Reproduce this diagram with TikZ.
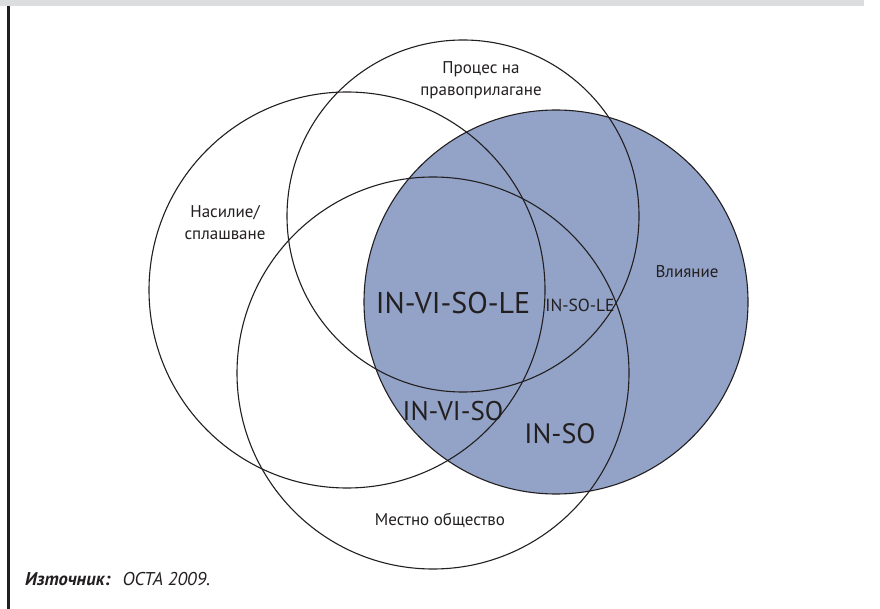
\documentclass[tikz,border=0pt]{standalone}
\usepackage{fontspec}
\setmainfont{PT Sans}
\definecolor{inkc}{RGB}{35,31,32}
\definecolor{fillblue}{RGB}{146,163,199}
\definecolor{bargray}{RGB}{220,221,223}
\begin{document}
\begin{tikzpicture}[x=1pt,y=-1pt,
  ring/.style={circle,draw=inkc,line width=1.1pt,inner sep=0pt},
  lbl/.style={text=inkc,inner sep=0pt,font=\fontsize{17}{22}\selectfont,align=center},
  big/.style={text=inkc,inner sep=0pt,anchor=base}]
\useasboundingbox (0,0) rectangle (880,609);
\fill[white] (0,0) rectangle (880,609);
\fill[bargray] (0,0) rectangle (864,6);
\fill[inkc] (7,6) rectangle (9.5,609);
% filled circle first
\node[circle,fill=fillblue,inner sep=0pt,minimum size=384pt] (inflfill) at (556,302) {};
% outlines
\node[ring,minimum size=396pt] (viol) at (347,290) {};
\node[ring,minimum size=352pt] (law) at (463,216) {};
\node[ring,minimum size=384pt] (infl) at (556,302) {};
\node[ring,minimum size=392pt] (comm) at (433,373) {};
% labels
\node[lbl] (tlaw) at (481,80) {Процес на\\правоприлагане};
\node[lbl] (tviol) at (225,223) {Насилие/\\сплашване};
\node[lbl,anchor=base] (tinfl) at (687,278) {Влияние};
\node[lbl,anchor=base] (tcomm) at (440,525) {Местно общество};
\node[big,font=\fontsize{30}{30}\selectfont] (t4) at (453,313) {IN-VI-SO-LE};
\node[big,font=\fontsize{17.5}{18}\selectfont] (t3b) at (580,312) {IN-SO-LE};
\node[big,font=\fontsize{27}{27}\selectfont] (t3) at (453,420) {IN-VI-SO};
\node[big,font=\fontsize{28}{28}\selectfont] (t2) at (560,443) {IN-SO};
\node[text=inkc,inner sep=0pt,anchor=base west,font=\fontsize{18.5}{20}\selectfont] (src) at (25,585) {\textbf{\textit{Източник:}}\hspace{12pt}\textit{OCTA 2009.}};
\end{tikzpicture}
\end{document}
